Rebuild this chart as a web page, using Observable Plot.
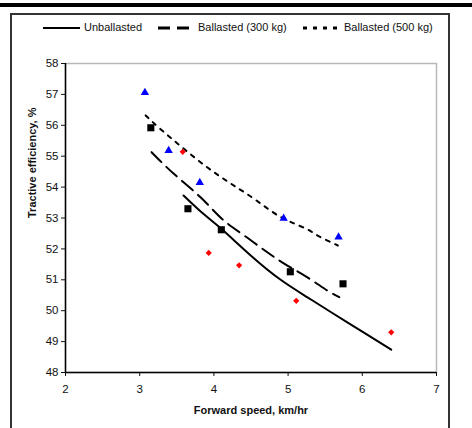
<!DOCTYPE html>
<html><head><meta charset="utf-8">
<script src="https://cdn.jsdelivr.net/npm/d3@7"></script>
<script src="https://cdn.jsdelivr.net/npm/@observablehq/plot@0.6"></script>
<style>
body{margin:0;background:#fff;font-family:"Liberation Sans",Arial,sans-serif;}
#wrap{position:relative;width:472px;height:428px;overflow:hidden;}
#topbar{position:absolute;left:0;top:3px;width:472px;height:4px;background:#000;}
#box{position:absolute;left:10px;top:13px;width:440px;height:430px;border:2px solid #333;box-sizing:border-box;}
#legend{position:absolute;top:20px;left:0;width:472px;height:16px;font-size:11px;color:#111;}
#legend span{position:absolute;top:1px;white-space:nowrap;}
#legend svg{position:absolute;top:0;}
#chart{position:absolute;left:0;top:0;}
</style></head>
<body><div id="wrap"><div id="topbar"></div><div id="box"></div><div id="chart"></div><div id="legend"></div></div>
<script>
// Measured points
const speedUnb = [3.58, 3.93, 4.34, 5.11, 6.39];
const effUnb   = [55.14, 51.87, 51.47, 50.32, 49.30];
const speed300 = [3.15, 3.65, 4.10, 5.03, 5.74];
const eff300   = [55.92, 53.30, 52.62, 51.26, 50.87];
const speed500 = [3.07, 3.39, 3.81, 4.94, 5.68];
const eff500   = [57.06, 55.18, 54.15, 52.99, 52.38];

// Fitted curves
const curveUnbX = [3.59, 3.85, 4.10, 4.50, 4.90, 5.25, 5.58, 6.00, 6.39];
const curveUnbY = [53.73, 53.15, 52.65, 51.78, 51.00, 50.45, 49.95, 49.32, 48.74];
const curve300X = [3.16, 3.46, 3.82, 4.11, 4.41, 4.72, 4.99, 5.26, 5.53, 5.69];
const curve300Y = [55.13, 54.43, 53.67, 52.97, 52.43, 51.89, 51.46, 51.08, 50.65, 50.44];
const curve500X = [3.08, 3.26, 3.57, 3.91, 4.23, 4.56, 4.90, 5.22, 5.37, 5.53, 5.67];
const curve500Y = [56.32, 55.92, 55.29, 54.64, 54.11, 53.59, 53.03, 52.68, 52.47, 52.27, 52.11];

const xTicks = [2, 3, 4, 5, 6, 7];
const yTicks = [48, 49, 50, 51, 52, 53, 54, 55, 56, 57, 58];
const seriesNames = ["Unballasted", "Ballasted (300 kg)", "Ballasted (500 kg)"];

const pts = (xs, ys) => xs.map((x, i) => ({x, y: ys[i]}));

const plot = Plot.plot({
  width: 472, height: 428,
  marginLeft: 65, marginRight: 36, marginTop: 63, marginBottom: 56,
  style: {fontFamily: "Liberation Sans, Arial, sans-serif", fontSize: "11px", color: "#111", background: "transparent"},
  x: {domain: [2, 7], label: null},
  y: {domain: [48, 58], label: null},
  marks: [
    Plot.frame({stroke: "#b8b8b8", strokeWidth: 1.5}),
    Plot.axisX({ticks: xTicks, tickFormat: "d", tickSize: 4, tickPadding: 8, fontSize: 11.5, label: null}),
    Plot.axisY({ticks: yTicks, tickFormat: "d", tickSize: 4, tickPadding: 3, fontSize: 11.5, label: null}),
    Plot.ruleX([2], {stroke: "#000", strokeWidth: 1.5}),
    Plot.ruleY([48], {stroke: "#000", strokeWidth: 1.5}),
    Plot.line(pts(curveUnbX, curveUnbY), {x: "x", y: "y", stroke: "#000", strokeWidth: 2, curve: "natural"}),
    Plot.line(pts(curve300X, curve300Y), {x: "x", y: "y", stroke: "#000", strokeWidth: 2, strokeDasharray: "14,7", curve: "natural"}),
    Plot.line(pts(curve500X, curve500Y), {x: "x", y: "y", stroke: "#000", strokeWidth: 2, strokeDasharray: "4,6", curve: "natural"}),
    Plot.dot(pts(speed500, eff500), {x: "x", y: "y", symbol: "triangle", fill: "#0000ff", r: 3.1}),
    Plot.dot(pts(speed300, eff300), {x: "x", y: "y", symbol: "square", fill: "#000", r: 4}),
    Plot.dot(pts(speedUnb, effUnb), {x: "x", y: "y", symbol: "diamond2", fill: "#ff0000", r: 2.8}),
    Plot.text(["Forward speed, km/hr"], {frameAnchor: "bottom", dy: 41, fontWeight: "bold", fontSize: 11}),
    Plot.text(["Tractive efficiency, %"], {frameAnchor: "left", dx: -33, rotate: -90, fontWeight: "bold", fontSize: 11})
  ]
});
document.getElementById("chart").appendChild(plot);

// Legend
const leg = document.getElementById("legend");
const legItems = [
  {name: seriesNames[0], x0: 43, x1: 80, tx: 84, dash: null},
  {name: seriesNames[1], x0: 158, x1: 195, tx: 198, dash: "12,7"},
  {name: seriesNames[2], x0: 303, x1: 340, tx: 344, dash: "4,6"}
];
legItems.forEach(it => {
  const ns = "http://www.w3.org/2000/svg";
  const s = document.createElementNS(ns, "svg");
  s.setAttribute("width", it.x1 - it.x0); s.setAttribute("height", 16);
  s.style.left = it.x0 + "px";
  const l = document.createElementNS(ns, "line");
  l.setAttribute("x1", 0); l.setAttribute("x2", it.x1 - it.x0);
  l.setAttribute("y1", 8); l.setAttribute("y2", 8);
  l.setAttribute("stroke", "#000"); l.setAttribute("stroke-width", it.dash ? 3 : 2);
  if (it.dash) l.setAttribute("stroke-dasharray", it.dash);
  s.appendChild(l); leg.appendChild(s);
  const t = document.createElement("span");
  t.textContent = it.name; t.style.left = it.tx + "px";
  leg.appendChild(t);
});
</script></body></html>
